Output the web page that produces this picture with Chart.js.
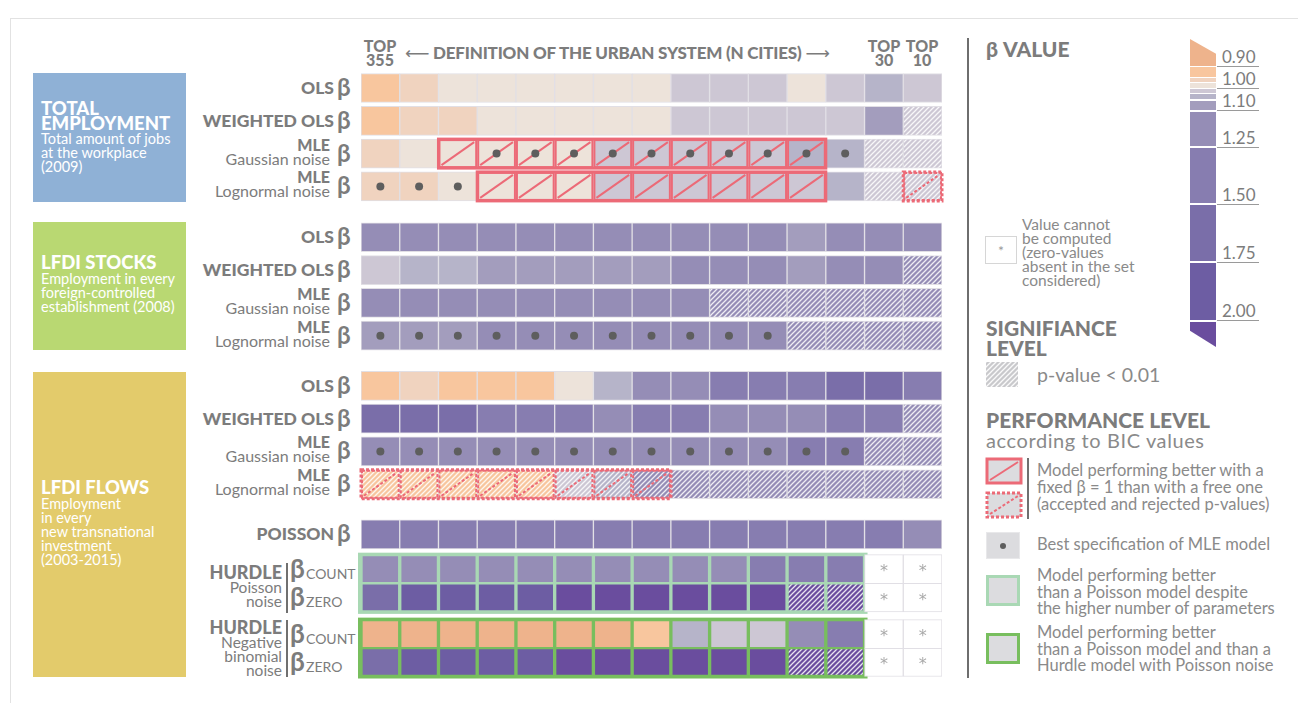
<!DOCTYPE html>
<html>
<head>
<meta charset="utf-8">
<script src="https://cdn.jsdelivr.net/npm/chart.js@4.4.1/dist/chart.umd.min.js"></script>
<style>
  body { margin: 0; background: #fff; font-family: Lato, "Open Sans", sans-serif; color: #808080; }
  #page { position: relative; width: 1298px; height: 703px; overflow: hidden; }
  .a { position: absolute; white-space: nowrap; }
  #grid { position: absolute; left: 351px; top: 60px; width: 601px; height: 630px; }
  .box { position: absolute; left: 33px; width: 153px; color: #fff; }
  .box .t { position: absolute; left: 8px; font-weight: 900; font-size: 18.5px; line-height: 15px; }
  .box .s { position: absolute; left: 8px; font-size: 14.5px; line-height: 14px; }
  .hdr { font-weight: 900; font-size: 16px; line-height: 14px; color: #7c7c7c; text-align: center; }
  .rl { text-align: right; right: 964px; color: #7c7c7c; }
  .rl b { font-weight: 900; font-size: 17.5px; }
  .beta { left: 337px; font-size: 24px; font-weight: 700; color: #7c7c7c; }
  .lt { font-size: 16.5px; line-height: 16.5px; color: #8a8a8a; }
  .lh { font-weight: 900; font-size: 21px; line-height: 20px; color: #7c7c7c; }
  .tick { left: 1222px; font-size: 17px; color: #7c7c7c; }
  .tline { position: absolute; left: 1217px; width: 42px; height: 1px; background: #9a9a9a; }
</style>
</head>
<body>
<div id="page">
  <div class="a" style="left:10px;top:18px;width:1288px;height:690px;border-left:1px solid #e2e2e2;border-top:1px solid #e2e2e2"></div>

  <!-- dataset boxes -->
  <div class="box" style="top:73px;height:129px;background:#8fb1d6">
    <div class="t" style="top:28px">TOTAL<br>EMPLOYMENT</div>
    <div class="s" style="top:59px">Total amount of jobs<br>at the workplace<br>(2009)</div>
  </div>
  <div class="box" style="top:222px;height:128px;background:#b9d872">
    <div class="t" style="top:33px">LFDI STOCKS</div>
    <div class="s" style="top:50px">Employment in every<br>foreign-controlled<br>establishment (2008)</div>
  </div>
  <div class="box" style="top:372px;height:305px;background:#e3cb6b">
    <div class="t" style="top:108px">LFDI FLOWS</div>
    <div class="s" style="top:125px">Employment<br>in every<br>new transnational<br>investment<br>(2003-2015)</div>
  </div>

  <!-- header -->
  <div class="a hdr" style="left:361px;top:39px;width:38px">TOP<br>355</div>
  <div class="a hdr" style="left:405px;top:46px;font-size:17px;letter-spacing:-0.2px"><span style="font-family:'DejaVu Sans';font-weight:400">⟵</span> DEFINITION OF THE URBAN SYSTEM (N CITIES) <span style="font-family:'DejaVu Sans';font-weight:400">⟶</span></div>
  <div class="a hdr" style="left:865px;top:39px;width:38px">TOP<br>30</div>
  <div class="a hdr" style="left:903px;top:39px;width:38px">TOP<br>10</div>

  <div id="rowLabels"></div>

  <!-- hurdle labels -->
  <div class="a rl" style="right:1016px;top:565px;line-height:14px"><b style="font-size:18px">HURDLE</b><br><span style="font-size:15.5px;line-height:13px">Poisson<br>noise</span></div>
  <div class="a rl" style="right:1016px;top:620px;line-height:14px"><b style="font-size:18px">HURDLE</b><br><span style="font-size:15.5px;line-height:13px">Negative<br>binomial<br>noise</span></div>
  <div class="a" style="left:286px;top:563px;width:2px;height:50px;background:#707070"></div>
  <div class="a" style="left:286px;top:620px;width:2px;height:57px;background:#707070"></div>

  <div id="grid"><canvas id="c"></canvas></div>

  <!-- legend -->
  <div class="a" style="left:967px;top:38px;width:2px;height:640px;background:#6e6e6e"></div>
  <div class="a lh" style="left:986px;top:39px">β VALUE</div>
  <div class="a" style="left:985px;top:236px;width:30px;height:26px;border:1px solid #d6d6d6;text-align:center;line-height:28px;font-size:14px;color:#999">*</div>
  <div class="a lt" style="left:1022px;top:217px;line-height:14px;font-size:15.5px">Value cannot<br>be computed<br>(zero-values<br>absent in the set<br>considered)</div>
  <div class="a lh" style="left:986px;top:318px">SIGNIFIANCE<br>LEVEL</div>
  <canvas id="hatchKey" class="a" width="32" height="25" style="left:986px;top:362px"></canvas>
  <div class="a" style="left:1037px;top:363px;font-size:19.5px;color:#8a8a8a">p-value &lt; 0.01</div>
  <div class="a lh" style="left:986px;top:410px">PERFORMANCE LEVEL</div>
  <div class="a" style="left:986px;top:428px;font-size:20px;letter-spacing:0.6px;color:#8a8a8a">according to BIC values</div>
  <canvas id="bicKey" class="a" width="40" height="64" style="left:984px;top:456px"></canvas>
  <div class="a" style="left:1027px;top:458px;width:2px;height:61px;background:#707070"></div>
  <div class="a lt" style="left:1037px;top:462px;line-height:17px">Model performing better with a<br>fixed β = 1 than with a free one<br>(accepted and rejected p-values)</div>
  <div class="a" style="left:986px;top:532px;width:32px;height:25px;background:#dcdcdf;border:1px solid #e8e8ea"><div style="position:absolute;left:13px;top:10px;width:6px;height:6px;border-radius:3px;background:#5e5e5e"></div></div>
  <div class="a lt" style="left:1037px;top:536px">Best specification of MLE model</div>
  <div class="a" style="left:986px;top:575px;width:28px;height:25px;background:#dcdcdf;border:3px solid #a9d8b4"></div>
  <div class="a lt" style="left:1037px;top:567px">Model performing better<br>than a Poisson model despite<br>the higher number of parameters</div>
  <div class="a" style="left:986px;top:633px;width:28px;height:25px;background:#dcdcdf;border:3px solid #78be5e"></div>
  <div class="a lt" style="left:1037px;top:624px">Model performing better<br>than a Poisson model and than a<br>Hurdle model with Poisson noise</div>
  <div id="colorbar"></div>
</div>

<script>
// ---- data ---------------------------------------------------------------
const COLUMN_LABELS = ['TOP 355', '', '', '', '', '', '', '', '', '', '', '', '', 'TOP 30', 'TOP 10'];

const ROW_LABELS = [
  'OLS', 'WEIGHTED OLS', 'MLE|Gaussian noise', 'MLE|Lognormal noise',
  'OLS', 'WEIGHTED OLS', 'MLE|Gaussian noise', 'MLE|Lognormal noise',
  'OLS', 'WEIGHTED OLS', 'MLE|Gaussian noise', 'MLE|Lognormal noise',
  'POISSON', 'COUNT', 'ZERO', 'COUNT', 'ZERO'
];

// beta estimates (null = cannot be computed)
const EMP_OLS    = [0.93, 0.96, 0.99, 0.99, 0.99, 0.99, 0.99, 0.99, 1.01, 1.01, 1.01, 0.99, 1.01, 1.04, 1.01];
const EMP_WOLS   = [0.93, 0.96, 0.96, 0.99, 0.99, 0.99, 0.99, 0.99, 1.01, 1.01, 1.01, 1.01, 1.01, 1.07, 1.01];
const EMP_MLE_G  = [0.96, 0.99, 0.99, 0.99, 0.99, 0.99, 1.01, 1.01, 1.01, 1.01, 1.01, 1.04, 1.04, 1.01, 1.01];
const EMP_MLE_L  = [0.96, 0.96, 0.99, 0.99, 0.99, 0.99, 1.01, 1.01, 1.01, 1.01, 1.01, 1.01, 1.04, 1.01, 1.01];
const STK_OLS    = [1.18, 1.18, 1.18, 1.18, 1.18, 1.18, 1.18, 1.18, 1.18, 1.18, 1.18, 1.07, 1.18, 1.18, 1.18];
const STK_WOLS   = [1.01, 1.04, 1.04, 1.07, 1.07, 1.07, 1.07, 1.07, 1.18, 1.18, 1.18, 1.07, 1.18, 1.18, 1.18];
const STK_MLE_G  = [1.18, 1.18, 1.18, 1.18, 1.18, 1.18, 1.18, 1.18, 1.18, 1.18, 1.18, 1.18, 1.18, 1.18, 1.18];
const STK_MLE_L  = [1.07, 1.07, 1.07, 1.18, 1.18, 1.18, 1.18, 1.18, 1.18, 1.18, 1.18, 1.18, 1.18, 1.18, 1.18];
const FLW_OLS    = [0.93, 0.96, 0.93, 0.93, 0.93, 0.99, 1.04, 1.18, 1.18, 1.38, 1.38, 1.38, 1.62, 1.62, 1.38];
const FLW_WOLS   = [1.62, 1.62, 1.62, 1.38, 1.38, 1.38, 1.18, 1.38, 1.38, 1.18, 1.18, 1.18, 1.38, 1.38, 1.18];
const FLW_MLE_G  = [1.18, 1.18, 1.18, 1.18, 1.18, 1.18, 1.18, 1.18, 1.18, 1.18, 1.18, 1.38, 1.38, 1.18, 1.18];
const FLW_MLE_L  = [0.93, 0.93, 0.93, 0.93, 0.93, 1.01, 1.04, 1.18, 1.18, 1.18, 1.18, 1.18, 1.18, 1.18, 1.18];
const FLW_POIS   = [1.38, 1.38, 1.38, 1.38, 1.38, 1.38, 1.38, 1.38, 1.38, 1.38, 1.38, 1.38, 1.38, 1.38, 1.18];
const HP_COUNT   = [1.18, 1.18, 1.18, 1.18, 1.18, 1.18, 1.18, 1.18, 1.18, 1.18, 1.38, 1.38, 1.38, null, null];
const HP_ZERO    = [1.62, 1.88, 1.88, 1.88, 1.88, 2.10, 2.10, 2.10, 2.10, 2.10, 2.10, 2.10, 2.10, null, null];
const HNB_COUNT  = [0.87, 0.87, 0.87, 0.87, 0.87, 0.87, 0.87, 0.93, 1.04, 1.01, 1.01, 1.18, 1.38, null, null];
const HNB_ZERO   = [1.62, 1.88, 1.88, 1.88, 1.88, 2.10, 2.10, 2.10, 2.10, 2.10, 2.10, 2.10, 2.10, null, null];

const BETA = [EMP_OLS, EMP_WOLS, EMP_MLE_G, EMP_MLE_L, STK_OLS, STK_WOLS, STK_MLE_G, STK_MLE_L,
              FLW_OLS, FLW_WOLS, FLW_MLE_G, FLW_MLE_L, FLW_POIS, HP_COUNT, HP_ZERO, HNB_COUNT, HNB_ZERO];

// p-value < 0.01 (hatched), per row: column indices
const SIGNIF = [[], [14], [13, 14], [13, 14], [], [14], [9, 10, 11, 12, 13, 14], [11, 12, 13, 14],
                [], [14], [13, 14], [0, 1, 2, 3, 4, 5, 6, 7, 8, 9, 10, 11, 12, 13, 14], [], [], [11, 12], [], [11, 12]];
// best specification of MLE model: [row, columns]
const BEST_MLE = [[2, [3, 4, 5, 6, 7, 8, 9, 10, 11, 12]], [3, [0, 1, 2]], [7, [0, 1, 2, 3, 4, 5, 6, 7, 8, 9, 10]],
                  [10, [0, 1, 2, 3, 4, 5, 6, 7, 8, 9, 10, 11, 12]]];
// fixed beta = 1 better (BIC): accepted (solid) / rejected (dashed)
const FIXED_ACCEPTED = [[2, [2, 3, 4, 5, 6, 7, 8, 9, 10, 11]], [3, [3, 4, 5, 6, 7, 8, 9, 10, 11]]];
const FIXED_REJECTED = [[3, [14]], [11, [0, 1, 2, 3, 4, 5, 6, 7]]];
// hurdle blocks better than Poisson: [countRow, zeroRow, lastCol]
const HURDLE_POISSON = [13, 14, 13];
const HURDLE_NEGBIN = [15, 16, 13];

// colour scale
const BREAKS = [0.90, 0.95, 0.98, 1.00, 1.02, 1.05, 1.10, 1.25, 1.50, 1.75, 2.00];
const COLORS = ['#eeb38c', '#f8c69e', '#f0d3bf', '#ede3da', '#cdc7d4', '#b6b4c9', '#a39dbd', '#958db6', '#877db0', '#7a6ea9', '#6d5da3', '#6a4d9e'];
const LEGEND_TICKS = ['0.90', '1.00', '1.10', '1.25', '1.50', '1.75', '2.00'];

// ---- layout -------------------------------------------------------------
const ROW_STEP = [0, 1, 1, 1, 1.55, 1, 1, 1, 1.53, 1, 1, 1, 1.53, 1.06, 0.86, 1.12, 0.85];
const ROW_POS = [];
ROW_STEP.reduce((acc, s, i) => (ROW_POS[i] = acc + s), 0);
const PITCH = 32.8, Y_MIN = -0.549, Y_MAX = Y_MIN + 612 / PITCH;
const CELL_H = 29;
const RED = '#ec6a77', GREEN_LIGHT = '#a9d8b4', GREEN_DARK = '#78be5e';

function betaColor(b) {
  let i = 0;
  while (i < BREAKS.length && b >= BREAKS[i]) i++;
  return COLORS[i];
}

function hatch(base, c2) {
  const cv = document.createElement('canvas');
  cv.width = cv.height = 5;
  const g = cv.getContext('2d');
  g.fillStyle = base; g.fillRect(0, 0, 5, 5);
  g.strokeStyle = c2 || 'rgba(255,255,255,0.85)'; g.lineWidth = 1.3;
  g.beginPath();
  g.moveTo(-1, 6); g.lineTo(6, -1);
  g.moveTo(-1, 1); g.lineTo(1, -1);
  g.moveTo(4, 6); g.lineTo(6, 4);
  g.stroke();
  return g.createPattern(cv, 'repeat');
}

const isHurdle = r => r >= 13;
const greenOf = r => (r === 13 || r === 14) ? GREEN_LIGHT : GREEN_DARK;

const cellSets = BETA.map((vals, r) => ({
  type: 'bar',
  indexAxis: 'y',
  grouped: false,
  barThickness: CELL_H,
  borderSkipped: false,
  data: vals.map((v, c) => ({ x: [c, c + 1], y: ROW_POS[r] })),
  backgroundColor: vals.map((v, c) => v === null ? '#ffffff'
    : SIGNIF[r].includes(c) ? hatch(betaColor(v)) : betaColor(v)),
  borderColor: vals.map(v => isHurdle(r) && v !== null ? greenOf(r) : '#e1dfe5'),
  borderWidth: vals.map(v => isHurdle(r) && v !== null ? 2 : 1)
}));

const dotSet = {
  type: 'scatter',
  order: -1,
  data: BEST_MLE.flatMap(([r, cols]) => cols.map(c => ({ x: c + 0.5, y: ROW_POS[r] }))),
  pointRadius: 4,
  pointHoverRadius: 4,
  backgroundColor: '#5e5e5e',
  borderWidth: 0
};

function drawRed(ctx, xs, ys, list, dashed) {
  ctx.save();
  ctx.strokeStyle = RED;
  list.forEach(([r, cols]) => {
    const yc = ys.getPixelForValue(ROW_POS[r]);
    const top = yc - CELL_H / 2, bot = yc + CELL_H / 2;
    ctx.setLineDash(dashed ? [3, 2] : []);
    cols.forEach(c => {
      const x0 = xs.getPixelForValue(c), x1 = xs.getPixelForValue(c + 1);
      ctx.lineWidth = 2;
      ctx.strokeRect(x0 + 1, top + 1, x1 - x0 - 2, CELL_H - 2);
      ctx.beginPath();
      ctx.moveTo(x0 + 3, bot - 3); ctx.lineTo(x1 - 3, top + 3);
      ctx.stroke();
    });
    const xa = xs.getPixelForValue(cols[0]), xb = xs.getPixelForValue(cols[cols.length - 1] + 1);
    ctx.lineWidth = 3;
    ctx.strokeRect(xa, top, xb - xa, CELL_H);
  });
  ctx.restore();
}

const overlay = {
  id: 'overlay',
  beforeDatasetsDraw(chart) {
    const { ctx, scales: { x, y } } = chart;
    [HURDLE_POISSON, HURDLE_NEGBIN].forEach(([rc, rz, last]) => {
      const x0 = x.getPixelForValue(0) - 3, x1 = x.getPixelForValue(last) + 3;
      const y0 = y.getPixelForValue(ROW_POS[rc]) - CELL_H / 2 - 2;
      const y1 = y.getPixelForValue(ROW_POS[rz]) + CELL_H / 2 + 2;
      ctx.save();
      ctx.fillStyle = greenOf(rc);
      ctx.fillRect(x0, y0, x1 - x0, y1 - y0);
      ctx.restore();
    });
  },
  beforeDatasetDraw(chart, args) {
    if (args.meta.type !== 'scatter') return;
    const { ctx, scales: { x, y } } = chart;
    drawRed(ctx, x, y, FIXED_ACCEPTED, false);
    drawRed(ctx, x, y, FIXED_REJECTED, true);
  },
  afterDatasetsDraw(chart) {
    const { ctx, scales: { x, y } } = chart;
    ctx.save();
    ctx.fillStyle = '#a8a8a8';
    ctx.font = '16px "DejaVu Sans"';
    ctx.textAlign = 'center';
    ctx.textBaseline = 'middle';
    BETA.forEach((vals, r) => vals.forEach((v, c) => {
      if (v === null) ctx.fillText('*', x.getPixelForValue(c + 0.5), y.getPixelForValue(ROW_POS[r]) + 3);
    }));
    ctx.restore();
  }
};

const chart = new Chart(document.getElementById('c'), {
  type: 'bar',
  data: { datasets: [...cellSets, dotSet] },
  options: {
    indexAxis: 'y',
    responsive: true,
    maintainAspectRatio: false,
    animation: false,
    layout: { padding: { left: 10, right: 10, top: 10, bottom: 8 } },
    plugins: { legend: { display: false }, tooltip: { enabled: false } },
    scales: {
      x: { type: 'linear', min: 0, max: COLUMN_LABELS.length, offset: false, display: false },
      y: { type: 'linear', min: Y_MIN, max: Y_MAX, reverse: true, offset: false, display: false }
    }
  },
  plugins: [overlay]
});

// ---- row labels (placed from the chart's y scale) -----------------------
const top0 = 60;
const rowCenter = r => top0 + chart.scales.y.getPixelForValue(ROW_POS[r]);
let html = '';
ROW_LABELS.forEach((lab, r) => {
  const cy = rowCenter(r);
  if (r >= 13) {
    html += `<div class="a beta" style="left:290px;top:${cy - 17}px;font-size:26px">β</div>` +
            `<div class="a" style="left:306px;top:${cy - 4}px;font-size:14px;color:#7c7c7c">${lab}</div>`;
    return;
  }
  if (lab.includes('|')) {
    const [a, b] = lab.split('|');
    html += `<div class="a rl" style="right:968px;top:${cy - 16}px;line-height:14px"><b style="font-size:16px">${a}</b><br><span style="font-size:16px">${b}</span></div>`;
  } else {
    html += `<div class="a rl" style="top:${cy - 11}px"><b>${lab}</b></div>`;
  }
  html += `<div class="a beta" style="top:${cy - 16}px">β</div>`;
});
document.getElementById('rowLabels').innerHTML = html;

// ---- colour bar legend --------------------------------------------------
const BAND_Y = [[39, 66], [67, 77], [78, 82], [83, 88], [89, 93], [94, 99], [101, 110], [112, 146], [148, 203], [205, 261], [263, 320], [322, 347]];
const TICK_Y = [66, 88, 110, 147, 204, 262, 320];
let cb = '';
COLORS.forEach((col, i) => {
  const [a, b] = BAND_Y[i];
  let clip = '';
  if (i === 0) clip = 'clip-path:polygon(0 0,100% 55%,100% 100%,0 100%);';
  if (i === COLORS.length - 1) clip = 'clip-path:polygon(0 0,100% 0,100% 100%,0 35%);';
  cb += `<div class="a" style="left:1190px;top:${a}px;width:26px;height:${b - a}px;background:${col};${clip}"></div>`;
});
LEGEND_TICKS.forEach((t, i) => {
  cb += `<div class="tline" style="top:${TICK_Y[i]}px"></div><div class="a tick" style="top:${TICK_Y[i] - 20}px">${t}</div>`;
});
document.getElementById('colorbar').innerHTML = cb;

// legend swatches
const hk = document.getElementById('hatchKey').getContext('2d');
hk.fillStyle = hatch('#c9c9cc', 'rgba(255,255,255,0.9)');
hk.fillRect(0, 0, 32, 25);
const bk = document.getElementById('bicKey').getContext('2d');
bk.fillStyle = '#dcdcdf';
bk.fillRect(3, 3, 34, 24); bk.fillRect(3, 37, 34, 24);
bk.strokeStyle = RED;
bk.lineWidth = 3; bk.strokeRect(3, 3, 34, 24);
bk.lineWidth = 2; bk.beginPath(); bk.moveTo(6, 24); bk.lineTo(34, 6); bk.stroke();
bk.setLineDash([3, 2]);
bk.lineWidth = 3; bk.strokeRect(3, 37, 34, 24);
bk.lineWidth = 2; bk.beginPath(); bk.moveTo(6, 58); bk.lineTo(34, 40); bk.stroke();
</script>
</body>
</html>
